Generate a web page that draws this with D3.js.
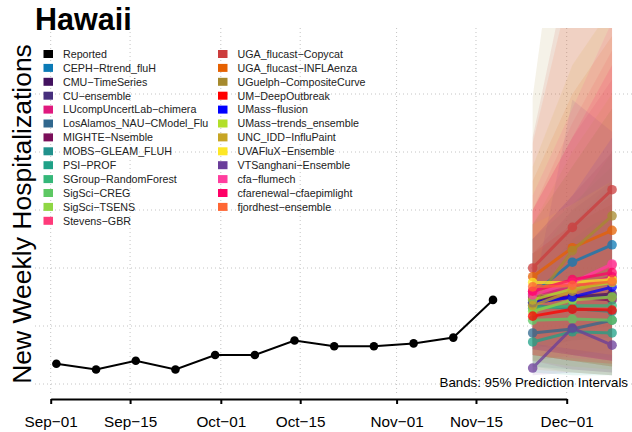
<!DOCTYPE html>
<html>
<head>
<meta charset="utf-8">
<script src="https://cdn.jsdelivr.net/npm/d3@7"></script>
<style>
    body { margin: 0; background: #fff; }
    svg { font-family: "Liberation Sans", Arial, sans-serif; }
</style>
</head>
<body>
<svg id="chart" width="632" height="432"></svg>
<script>
var reportedDates = ["2023-09-02", "2023-09-09", "2023-09-16", "2023-09-23", "2023-09-30", "2023-10-07",
    "2023-10-14", "2023-10-21", "2023-10-28", "2023-11-04", "2023-11-11", "2023-11-18"];
var reportedValues = [7, 5, 8, 5, 10, 10, 15, 13, 13, 14, 16, 29];

var forecastDates = ["2023-11-25", "2023-12-02", "2023-12-09"];

var modelNames = ["CEPH\u2212Rtrend_fluH", "CMU\u2212TimeSeries", "CU\u2212ensemble", "LUcompUncertLab\u2212chimera",
    "LosAlamos_NAU\u2212CModel_Flu", "MIGHTE\u2212Nsemble", "MOBS\u2212GLEAM_FLUH", "PSI\u2212PROF",
    "SGroup\u2212RandomForest", "SigSci\u2212CREG", "SigSci\u2212TSENS", "Stevens\u2212GBR",
    "UGA_flucast\u2212Copycat", "UGA_flucast\u2212INFLAenza", "UGuelph\u2212CompositeCurve", "UM\u2212DeepOutbreak",
    "UMass\u2212flusion", "UMass\u2212trends_ensemble", "UNC_IDD\u2212InfluPaint", "UVAFluX\u2212Ensemble",
    "VTSanghani\u2212Ensemble", "cfa\u2212flumech", "cfarenewal\u2212cfaepimlight", "fjordhest\u2212ensemble"];
var modelColors = ["#0B7AB6", "#43125F", "#472F7D", "#E0197E", "#31688E", "#7B0F5A", "#21918C", "#1FA187",
    "#35B779", "#5DC863", "#8FD744", "#FF3A7A", "#CC3D3D", "#E66101", "#A68A2E", "#FF0000",
    "#0000FF", "#B2DF2A", "#C7A524", "#FDE725", "#6A3D9A", "#FF3E9E", "#FF0066", "#FF6633"];

// medians for the three forecast weeks
var modelMedian = [[31, 42, 48], [29, 30, 31], [28, 30, 30], [31, 33, 37],
    [17.6, 19, 22], [30, 30, 29], [27, 26, 25], [14.5, 18, 17.6],
    [26, 27, 27], [22, 22.4, 22], [25, 29, 30], [32, 35, 41],
    [40, 54, 67], [37, 47, 53], [27.6, 46, 58], [23.4, 25.8, 25.5],
    [28, 30, 33.4], [29, 32.8, 35], [27, 32, 36], [35, 35, 36],
    [5.5, 19.3, 13.4], [30.7, 35, 41.4], [32, 36, 38.4], [33.5, 34, 35.3]];
var modelLower = [[12, 15, 16], [10, 8, 6], [12, 10, 8], [8, 5, 4],
    [6, 5, 4], [14, 10, 8], [10, 8, 6], [4, 3, 3],
    [12, 10, 9], [6, 4, 3], [8, 6, 5], [10, 8, 7],
    [15, 18, 20], [15, 16, 18], [8, 10, 12], [10, 8, 7],
    [12, 10, 8], [10, 8, 6], [5, 4, 3], [14, 12, 10],
    [3, 4, 3], [10, 9, 8], [12, 10, 8], [10, 8, 6]];
var modelUpper = [[55, 75, 95], [50, 65, 80], [45, 60, 70], [60, 85, 105],
    [40, 55, 70], [45, 55, 62], [50, 62, 75], [35, 50, 60],
    [45, 52, 58], [42, 60, 80], [55, 80, 100], [60, 90, 115],
    [85, 150, 200], [70, 100, 120], [99, 200, 300], [45, 55, 65],
    [50, 65, 85], [55, 75, 95], [75, 110, 130], [55, 62, 70],
    [30, 98, 87], [65, 95, 125], [60, 85, 110], [83, 140, 200]];

var tickDates = ["2023-09-01", "2023-09-15", "2023-10-01", "2023-10-15", "2023-11-01", "2023-11-15", "2023-12-01"];
var gridValues = [0, 20, 40, 60, 80, 100];

var parse = d3.utcParse("%Y-%m-%d");
var svg = d3.select("#chart");

var x = d3.scaleUtc().domain([parse("2023-09-01"), parse("2023-12-01")]).range([50.7, 566.7]),
    y = d3.scaleLinear().domain([0, 100]).range([384, 94]);

var plotTop = 28, plotBottom = 395, plotLeft = 35, plotRight = 632;

svg.append("clipPath").attr("id", "plotClip")
    .append("rect")
    .attr("x", plotLeft).attr("y", plotTop)
    .attr("width", plotRight - plotLeft).attr("height", plotBottom - plotTop);

// grid
var grid = svg.append("g")
    .attr("stroke", "#c4c4c4")
    .attr("stroke-width", 1)
    .attr("stroke-dasharray", "1,3");

grid.selectAll(".hgrid")
    .data(gridValues)
    .enter().append("line")
    .attr("class", "hgrid")
    .attr("x1", plotLeft).attr("x2", plotRight)
    .attr("y1", function (d) { return y(d); })
    .attr("y2", function (d) { return y(d); });

grid.selectAll(".vgrid")
    .data(tickDates)
    .enter().append("line")
    .attr("class", "vgrid")
    .attr("y1", plotTop).attr("y2", plotBottom)
    .attr("x1", function (d) { return x(parse(d)); })
    .attr("x2", function (d) { return x(parse(d)); });

// forecast data
var models = modelNames.map(function (name, i) {
    return {
        name: name,
        color: modelColors[i],
        points: forecastDates.map(function (f, j) {
            return { date: parse(f), med: modelMedian[i][j], lo: modelLower[i][j], hi: modelUpper[i][j] };
        })
    };
});

var band = d3.area()
    .x(function (d) { return x(d.date); })
    .y0(function (d) { return y(d.lo); })
    .y1(function (d) { return y(d.hi); });

var line = d3.line()
    .x(function (d) { return x(d.date); })
    .y(function (d) { return y(d.med); });

var plot = svg.append("g").attr("clip-path", "url(#plotClip)");

plot.selectAll(".band")
    .data(models)
    .enter().append("path")
    .attr("class", "band")
    .attr("d", function (d) { return band(d.points); })
    .attr("fill", function (d) { return d.color; })
    .attr("fill-opacity", 0.11);

// reported
var reported = reportedDates.map(function (d, i) {
    return { date: parse(d), med: reportedValues[i] };
});

plot.append("path")
    .attr("d", line(reported))
    .attr("fill", "none")
    .attr("stroke", "#000")
    .attr("stroke-width", 2);

plot.selectAll(".rep")
    .data(reported)
    .enter().append("circle")
    .attr("class", "rep")
    .attr("cx", function (d) { return x(d.date); })
    .attr("cy", function (d) { return y(d.med); })
    .attr("r", 4.3)
    .attr("fill", "#000");

var mg = plot.selectAll(".model")
    .data(models)
    .enter().append("g")
    .attr("class", "model")
    .attr("opacity", 0.75);

mg.append("path")
    .attr("d", function (d) { return line(d.points); })
    .attr("fill", "none")
    .attr("stroke", function (d) { return d.color; })
    .attr("stroke-width", 3);

mg.selectAll("circle")
    .data(function (d) { return d.points.map(function (p) { return { p: p, color: d.color }; }); })
    .enter().append("circle")
    .attr("cx", function (d) { return x(d.p.date); })
    .attr("cy", function (d) { return y(d.p.med); })
    .attr("r", 4.8)
    .attr("fill", function (d) { return d.color; });

// x axis
var xAxis = svg.append("g")
    .attr("transform", "translate(0,399)")
    .call(d3.axisBottom(x)
        .tickValues(tickDates.map(parse))
        .tickSizeInner(5)
        .tickSizeOuter(0)
        .tickPadding(12)
        .tickFormat(function (d) { return d3.utcFormat("%b")(d) + "\u2212" + d3.utcFormat("%d")(d); }));

xAxis.select(".domain").attr("stroke-width", 2);
xAxis.selectAll(".tick line").attr("stroke-width", 2);
xAxis.selectAll(".tick text")
    .attr("font-size", "15.3px")
    .attr("font-family", "Liberation Sans, Arial, sans-serif")
    .attr("fill", "#000");

// legend
var legendEntries = [{ name: "Reported", color: "#000000" }].concat(models);

var legend = svg.selectAll(".legend")
    .data(legendEntries)
    .enter().append("g")
    .attr("class", "legend")
    .attr("transform", function (d, i) {
        var col = i < 13 ? 0 : 1;
        var row = i < 13 ? i : i - 13;
        return "translate(" + (col === 0 ? 43.5 : 218) + "," + (54 + row * 13.9) + ")";
    });

legend.append("rect")
    .attr("x", 0).attr("y", -4)
    .attr("width", 9.5).attr("height", 8)
    .attr("fill", function (d) { return d.color; });

legend.append("text")
    .attr("x", 19.5)
    .attr("dy", "0.36em")
    .attr("font-size", "10.7px")
    .attr("fill", "#222")
    .text(function (d) { return d.name; });

// titles
svg.append("text")
    .attr("x", 35)
    .attr("y", 30)
    .attr("font-size", "30.5px")
    .attr("font-weight", "bold")
    .text("Hawaii");

svg.append("text")
    .attr("transform", "translate(30.5,214) rotate(-90)")
    .attr("text-anchor", "middle")
    .attr("font-size", "26.5px")
    .text("New Weekly Hospitalizations");

svg.append("text")
    .attr("x", 628)
    .attr("y", 387)
    .attr("text-anchor", "end")
    .attr("font-size", "13.3px")
    .text("Bands: 95% Prediction Intervals");
</script>
</body>
</html>
